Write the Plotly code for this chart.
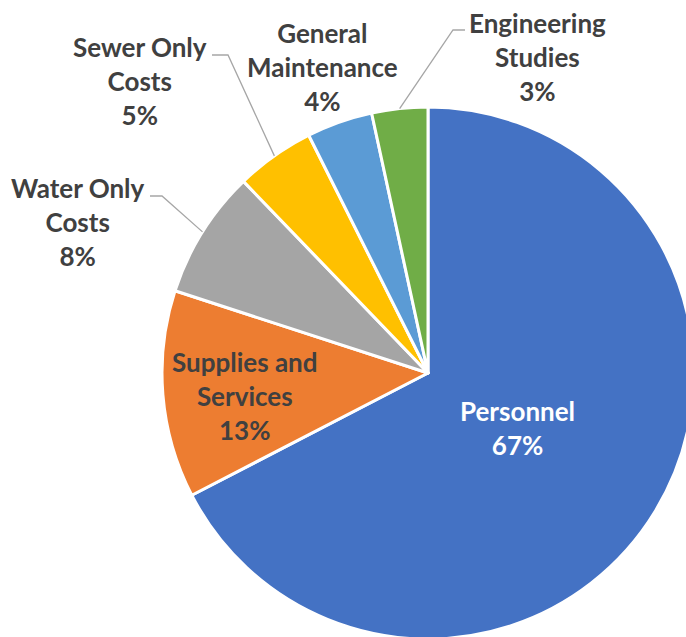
import math
import plotly.graph_objects as go

# ---- data ----
labels = ["Personnel", "Supplies and Services", "Water Only Costs",
          "Sewer Only Costs", "General Maintenance", "Engineering Studies"]
values = [67.4, 12.6, 7.8, 4.8, 4.0, 3.4]
label_lines = ["Personnel", "Supplies and<br>Services", "Water Only<br>Costs",
               "Sewer Only<br>Costs", "General<br>Maintenance", "Engineering<br>Studies"]

# ---- style / layout ----
colors = ["#4472C4", "#ED7D31", "#A5A5A5", "#FFC000", "#5B9BD5", "#70AD47"]
text_colors = ["#FFFFFF", "#404040", "#404040", "#404040", "#404040", "#404040"]
W, H = 704, 652                      # figure slightly larger than the window; overflow hidden
CX, CY, R = 428, 373, 266            # pie centre / radius in pixels
# label block centres in pixels
label_pos = [(517, 428), (245, 396), (78, 222), (140, 81), (322, 67), (537, 57)]
# leader lines: slice index -> (elbow point, end point) in pixels
leaders = {2: ((162, 196), (150, 196)),
           3: ((228, 55), (212, 55)),
           5: ((453, 30), (465, 30))}

def px2paper(x, y):
    return x / W, 1 - y / H

total = sum(values)
pct_text = [f"{round(v / total * 100)}%" for v in values]

fig = go.Figure(go.Pie(
    labels=labels, values=values, sort=False, direction="clockwise", rotation=0,
    marker=dict(colors=colors, line=dict(color="white", width=3)),
    textinfo="none", hoverinfo="label+percent",
    domain=dict(x=[(CX - R) / W, (CX + R) / W], y=[1 - (CY + R) / H, 1 - (CY - R) / H]),
))

annotations = []
for i, (lt, pt) in enumerate(zip(label_lines, pct_text)):
    x, y = px2paper(*label_pos[i])
    annotations.append(dict(
        x=x, y=y, xref="paper", yref="paper", showarrow=False,
        text=f"{lt}<br>{pt}", align="center", xanchor="center", yanchor="middle",
        font=dict(family="Lato", size=26, color=text_colors[i], weight="bold"),
    ))

shapes = []
cum = 0.0
for i, v in enumerate(values):
    mid = (cum + v / 2) / total
    cum += v
    if i in leaders:
        th = 2 * math.pi * mid
        ax = CX + R * math.sin(th)
        ay = CY - R * math.cos(th)
        (ex, ey), (fx, fy) = leaders[i]
        p0 = px2paper(ax, ay)
        p1 = px2paper(ex, ey)
        p2 = px2paper(fx, fy)
        shapes.append(dict(
            type="path", xref="paper", yref="paper",
            path=f"M {p0[0]} {p0[1]} L {p1[0]} {p1[1]} L {p2[0]} {p2[1]}",
            line=dict(color="#A6A6A6", width=1.3),
        ))

fig.update_layout(
    width=W, height=H, margin=dict(l=0, r=0, t=0, b=0),
    showlegend=False, paper_bgcolor="white", plot_bgcolor="white",
    annotations=annotations, shapes=shapes,
)

fig.write_html(
    "out.html",
    config={"displayModeBar": False},
    post_script="document.body.style.margin='0';"
                "document.documentElement.style.overflow='hidden';"
                "document.body.style.overflow='hidden';",
)
